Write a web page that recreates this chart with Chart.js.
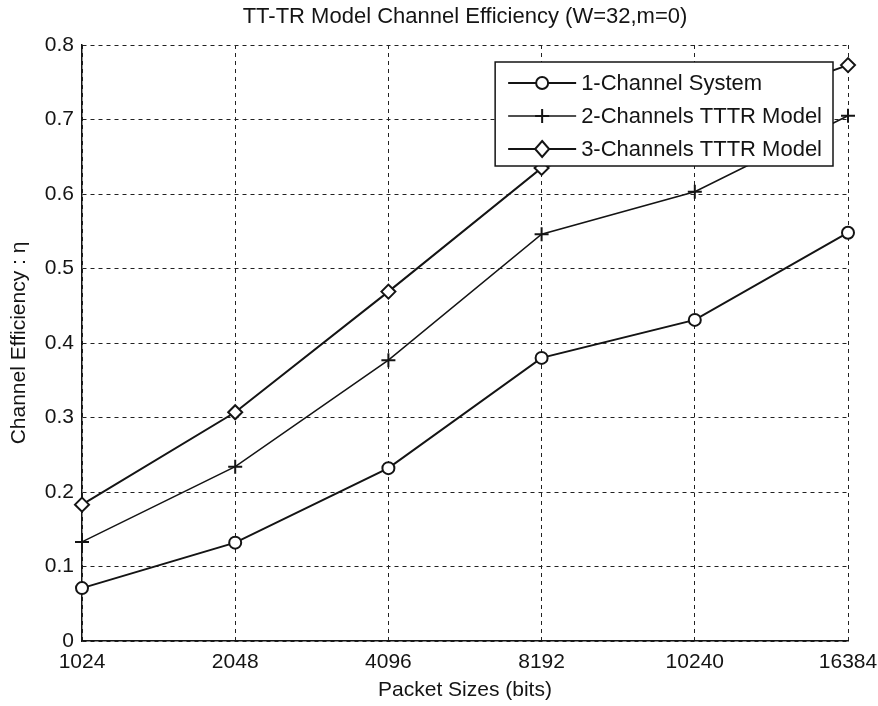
<!DOCTYPE html>
<html>
<head>
<meta charset="utf-8">
<title>TT-TR Model Channel Efficiency</title>
<script src="https://cdn.jsdelivr.net/npm/chart.js@4"></script>
<style>
  html, body { margin: 0; padding: 0; background: #fff; }
  .chart-wrap { width: 878px; height: 706px; position: relative; }
</style>
</head>
<body>
<div class="chart-wrap"><canvas class="my-chart"></canvas></div>
<script>
const packetSizes = ["1024", "2048", "4096", "8192", "10240", "16384"];
const oneChannel = [0.071, 0.132, 0.232, 0.38, 0.431, 0.548];
const twoChannels = [0.133, 0.234, 0.377, 0.546, 0.603, 0.705];
const threeChannels = [0.183, 0.307, 0.469, 0.635, 0.7, 0.773];
const seriesNames = ["1-Channel System", "2-Channels TTTR Model", "3-Channels TTTR Model"];
const yTicks = [0, 0.1, 0.2, 0.3, 0.4, 0.5, 0.6, 0.7, 0.8];

const ink = "#141414";
const sans = '"Liberation Sans", Arial, sans-serif';

// draws the legend marker shapes (same look as the point styles)
const drawMarker = function (ctx, style, x, y) {
  ctx.beginPath();
  if (style === "circle") {
    ctx.arc(x, y, 6, 0, Math.PI * 2);
    ctx.fillStyle = "#fff";
    ctx.fill();
    ctx.lineWidth = 2;
    ctx.stroke();
  } else if (style === "cross") {
    ctx.moveTo(x - 7, y); ctx.lineTo(x + 7, y);
    ctx.moveTo(x, y - 7); ctx.lineTo(x, y + 7);
    ctx.lineWidth = 2;
    ctx.stroke();
  } else {
    ctx.moveTo(x, y - 8); ctx.lineTo(x + 7, y);
    ctx.lineTo(x, y + 8); ctx.lineTo(x - 7, y);
    ctx.closePath();
    ctx.fillStyle = "#fff";
    ctx.fill();
    ctx.lineWidth = 2;
    ctx.stroke();
  }
};

//boxed legend sitting inside the plot, top right
const legendBox = {
  id: "legendBox",
  afterDraw(chart) {
    const { ctx, chartArea } = chart;
    const sets = chart.data.datasets;
    ctx.save();
    ctx.font = "22px " + sans;
    const textW = Math.max(...sets.map((d) => ctx.measureText(d.label).width));
    const w = 86 + textW + 11;
    const h = 104;
    const x = chartArea.right - 15 - w;
    const y = chartArea.top + 17;
    ctx.fillStyle = "#fff";
    ctx.fillRect(x, y, w, h);
    ctx.strokeStyle = ink;
    ctx.lineWidth = 1.5;
    ctx.strokeRect(x, y, w, h);

    sets.forEach((d, i) => {
      const cy = y + 21 + i * 33;
      ctx.strokeStyle = ink;
      ctx.lineWidth = d.borderWidth;
      ctx.beginPath();
      ctx.moveTo(x + 13, cy);
      ctx.lineTo(x + 81, cy);
      ctx.stroke();
      drawMarker(ctx, d.pointStyle, x + 47, cy);
      ctx.fillStyle = ink;
      ctx.textBaseline = "middle";
      ctx.textAlign = "left";
      ctx.fillText(d.label, x + 86, cy + 1);
    });
    ctx.restore();
  },
};

const makeSeries = function (label, data, style, radius, width) {
  return {
    label: label,
    data: data,
    borderColor: ink,
    borderWidth: width,
    backgroundColor: "#fff",
    pointStyle: style,
    pointRadius: radius,
    pointBorderWidth: 2,
    pointBackgroundColor: "#fff",
    pointBorderColor: ink,
    tension: 0,
    clip: false,
  };
};

const myChart = document.querySelector(".my-chart");

new Chart(myChart, {
  type: "line",
  data: {
    labels: packetSizes,
    datasets: [
      makeSeries(seriesNames[0], oneChannel, "circle", 6, 2),
      makeSeries(seriesNames[1], twoChannels, "cross", 7, 1.5),
      makeSeries(seriesNames[2], threeChannels, "rectRot", 7, 2),
    ],
  },
  options: {
    responsive: true,
    maintainAspectRatio: false,
    animation: false,
    layout: { padding: { left: 0, right: 30, top: 0, bottom: 0 } },
    plugins: {
      legend: { display: false },
      tooltip: { enabled: false },
      title: {
        display: true,
        fullSize: false,
        text: "TT-TR Model Channel Efficiency (W=32,m=0)",
        color: ink,
        font: { family: sans, size: 22, weight: "normal" },
        padding: { top: 4, bottom: 14.6 },
      },
    },
    scales: {
      x: {
        offset: false,
        grid: { color: "#222", lineWidth: 1, drawTicks: false, offset: false },
        border: { display: true, color: ink, width: 1.5, dash: [4, 4] },
        ticks: {
          color: ink,
          padding: 9,
          maxRotation: 0,
          autoSkip: false,
          font: { family: sans, size: 21 },
        },
        title: {
          display: true,
          text: "Packet Sizes (bits)",
          color: ink,
          font: { family: sans, size: 21 },
          padding: { top: 0, bottom: 3 },
        },
        afterFit(scale) {
          scale.height = 65;
          scale.paddingLeft = 0;
          scale.paddingRight = 0;
        },
      },
      y: {
        min: 0,
        max: 0.8,
        grid: { color: "#222", lineWidth: 1, drawTicks: false },
        border: { display: true, color: ink, width: 1.5, dash: [4, 4] },
        afterBuildTicks(scale) {
          scale.ticks = yTicks.map((v) => ({ value: v }));
        },
        ticks: {
          color: ink,
          padding: 8,
          font: { family: sans, size: 21 },
          callback: (v) => (v === 0 ? "0" : v.toFixed(1)),
        },
        title: {
          display: true,
          text: "Channel Efficiency : \u03b7",
          color: ink,
          font: { family: sans, size: 21 },
          padding: { top: 7, bottom: 0 },
        },
        afterFit(scale) {
          scale.width = 82;
          scale.paddingTop = 0;
          scale.paddingBottom = 0;
        },
      },
    },
  },
  plugins: [legendBox],
});
</script>
</body>
</html>
